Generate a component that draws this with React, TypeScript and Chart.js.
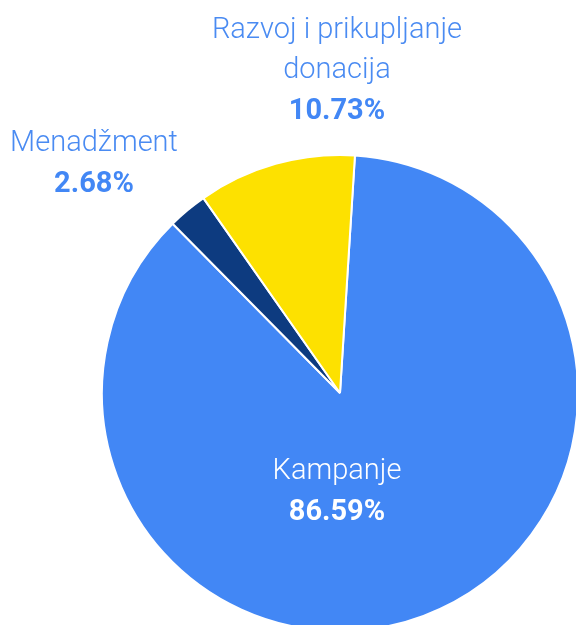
import React, { useEffect, useRef } from "react";
import { Chart, registerables } from "chart.js";

Chart.register(...registerables);

const categories = ["Kampanje", "Menadžment", "Razvoj i prikupljanje donacija"];
const values = [86.59, 2.68, 10.73];
const labelLines = [["Kampanje"], ["Menadžment"], ["Razvoj i prikupljanje", "donacija"]];
const colors = ["#4287F5", "#0D3B80", "#FDE100"];

const labelPlugin = {
  id: "sliceLabels",
  afterDraw(chart: any) {
    const meta = chart.getDatasetMeta(0);
    const arc = meta.data[0];
    if (!arc) return;
    const cx = arc.x;
    const cy = arc.y;
    const ctx = chart.ctx;
    ctx.save();
    ctx.textAlign = "center";
    ctx.textBaseline = "middle";
    // offsets relative to the pie centre
    const placements = [
      { dx: -3, dy: 79, name: "#FFFFFF", pct: "#FFFFFF" },
      { dx: -246, dy: -249, name: "#4A8BF2", pct: "#4287F5" },
      { dx: -3, dy: -362, name: "#4A8BF2", pct: "#4287F5" },
    ];
    const lineH = 40;
    placements.forEach((p, i) => {
      const lines = labelLines[i];
      let y = cy + p.dy;
      ctx.font = "300 29px Roboto";
      ctx.fillStyle = p.name;
      lines.forEach((l) => {
        ctx.fillText(l, cx + p.dx, y);
        y += lineH;
      });
      ctx.font = "700 29px Roboto";
      ctx.fillStyle = p.pct;
      ctx.fillText(values[i].toFixed(2) + "%", cx + p.dx, y + 1);
    });
    ctx.restore();
  },
};

export default function App() {
  const ref = useRef<HTMLCanvasElement | null>(null);
  useEffect(() => {
    document.body.style.margin = "0";
    const chart = new Chart(ref.current!, {
      type: "pie",
      data: {
        labels: categories,
        datasets: [
          {
            data: values,
            backgroundColor: colors,
            borderColor: "#FFFFFF",
            borderWidth: 2,
          },
        ],
      },
      options: {
        responsive: false,
        animation: false,
        rotation: 3.6,
        radius: 238,
        layout: { padding: { left: 104, top: 161, right: 0, bottom: 0 } },
        plugins: { legend: { display: false }, tooltip: { enabled: false } },
      },
      plugins: [labelPlugin],
    });
    return () => chart.destroy();
  }, []);
  return (
    <div style={{ width: 576, height: 625, position: "relative" }}>
      <canvas ref={ref} width={576} height={625} style={{ display: "block" }} />
    </div>
  );
}
